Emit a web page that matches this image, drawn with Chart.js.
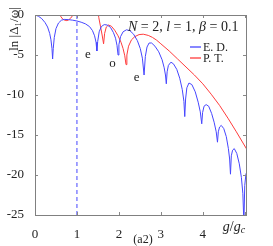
<!DOCTYPE html>
<html>
<head>
<meta charset="utf-8">
<script src="https://cdn.jsdelivr.net/npm/chart.js@4/dist/chart.umd.min.js"></script>
<style>
  html, body { margin: 0; padding: 0; background: #fff; }
  #wrap { width: 273px; height: 246px; }
</style>
</head>
<body>
<div id="wrap"><canvas id="c" width="273" height="246"></canvas></div>
<script>
// exact diagonalisation curve (E. D.)
var edX = [0, 0.08, 0.16, 0.24, 0.3, 0.35, 0.38, 0.405, 0.42, 0.435, 0.46, 0.5, 0.56, 0.63, 0.7, 0.8, 0.9, 1.0, 1.1, 1.2, 1.3, 1.37, 1.42, 1.455, 1.475, 1.495, 1.53, 1.58, 1.65, 1.72, 1.8, 1.87, 1.92, 1.955, 1.98, 2.0, 2.04, 2.1, 2.18, 2.26, 2.35, 2.44, 2.51, 2.56, 2.6, 2.63, 2.67, 2.72, 2.78, 2.86, 2.95, 3.03, 3.08, 3.11, 3.13, 3.15, 3.18, 3.24, 3.3, 3.38, 3.45, 3.51, 3.55, 3.57, 3.59, 3.62, 3.67, 3.74, 3.82, 3.89, 3.94, 3.975, 3.995, 4.03, 4.08, 4.14, 4.21, 4.27, 4.32, 4.35, 4.37, 4.4, 4.44, 4.5, 4.56, 4.61, 4.64, 4.66, 4.68, 4.71, 4.75, 4.81, 4.87, 4.92, 4.955, 4.98, 5.0, 5.03, 5.05];
var edY = [0, -0.15, -0.45, -0.95, -1.5, -2.3, -3.1, -4.2, -5.5, -4.2, -2.8, -1.7, -1.0, -0.65, -0.55, -0.58, -0.65, -0.75, -0.9, -1.1, -1.45, -1.95, -2.6, -3.4, -4.5, -3.3, -2.1, -1.45, -1.2, -1.25, -1.55, -2.2, -2.9, -3.8, -5.0, -3.7, -2.7, -2.1, -1.85, -1.95, -2.4, -3.2, -4.2, -5.4, -7.5, -5.2, -4.0, -3.5, -3.5, -3.9, -4.6, -5.6, -6.6, -7.5, -8.6, -7.1, -6.3, -5.9, -6.1, -6.8, -7.9, -9.3, -10.8, -12.7, -10.5, -9.1, -8.5, -8.7, -9.6, -10.9, -12.1, -13.6, -12.2, -11.4, -11.2, -11.4, -12.3, -13.4, -14.6, -15.9, -14.6, -14.0, -13.8, -14.2, -15.2, -16.7, -18.0, -19.9, -17.6, -16.9, -16.7, -17.3, -18.6, -20.3, -22.3, -26, -21.3, -19.8, -19.5];

// perturbation theory curve (P. T.), null = gap
var ptX = [0.57, 0.61, 0.66, 0.72, 0.76, 0.8, 0.85, 0.9, 0.94, 1.2, 1.48, 1.52, 1.56, 1.6, 1.635, 1.66, 1.7, 1.75, 1.82, 1.9, 1.98, 2.05, 2.1, 2.14, 2.17, 2.19, 2.23, 2.3, 2.38, 2.48, 2.58, 2.7, 2.8, 2.9, 3.0, 3.2, 3.4, 3.6, 3.8, 4.0, 4.2, 4.4, 4.6, 4.8, 5.05];
var ptY = [0.6, -0.15, -0.5, -0.68, -0.7, -0.62, -0.4, -0.05, 0.5, null, 1.5, -0.3, -1.4, -2.5, -3.6, -2.3, -1.5, -1.25, -1.4, -1.9, -2.6, -3.4, -4.2, -5.1, -6.2, -5.0, -3.9, -3.1, -2.7, -2.45, -2.4, -2.55, -2.8, -3.15, -3.6, -4.5, -5.5, -6.5, -7.5, -8.6, -9.9, -11.3, -12.9, -14.6, -16.8];

var xTicks = [0, 1, 2, 3, 4, 5];
var yTicks = [0, -5, -10, -15, -20, -25];
var gcLine = 1;
var notes = [["e", 1.26, -4.9], ["o", 1.85, -6.1], ["e", 2.42, -7.8]];

function pts(xs, ys) {
  return xs.map(function (x, i) { return { x: x, y: ys[i] }; });
}

var blue = "rgb(70,70,255)";
var red = "rgb(255,60,60)";
var serif = "'Liberation Serif', 'DejaVu Serif', serif";

// draws text pieces one after another, returns the end x
function runs(ctx, parts, x, y, size) {
  parts.forEach(function (p) {
    ctx.font = (p[1] ? "italic " : "") + size + "px " + serif;
    ctx.fillText(p[0], x, y);
    x += ctx.measureText(p[0]).width;
  });
  return x;
}

var extras = {
  id: "extras",
  afterDraw: function (chart) {
    var ctx = chart.ctx, a = chart.chartArea;
    var xs = chart.scales.x, ys = chart.scales.y;
    ctx.save();
    // inward ticks
    ctx.strokeStyle = "#888";
    ctx.lineWidth = 1;
    ctx.beginPath();
    xTicks.forEach(function (v) {
      var px = Math.round(xs.getPixelForValue(v)) + 0.5;
      ctx.moveTo(px, a.bottom); ctx.lineTo(px, a.bottom - 3);
      ctx.moveTo(px, a.top); ctx.lineTo(px, a.top + 3);
    });
    yTicks.forEach(function (v) {
      var py = Math.round(ys.getPixelForValue(v)) + 0.5;
      ctx.moveTo(a.left, py); ctx.lineTo(a.left + 3, py);
      ctx.moveTo(a.right, py); ctx.lineTo(a.right - 3, py);
    });
    ctx.stroke();
    // frame
    ctx.strokeStyle = "#808080";
    ctx.strokeRect(Math.round(a.left) + 0.5, Math.round(a.top) + 0.5, Math.round(a.right - a.left), Math.round(a.bottom - a.top));

    ctx.fillStyle = "#222";
    ctx.textBaseline = "alphabetic";
    ctx.textAlign = "left";
    // parameter text
    runs(ctx, [["N", 1], [" = 2, ", 0], ["l", 1], [" = 1, ", 0], ["\u03b2", 1], [" = 0.1", 0]], 128, 31, 14);

    // legend
    var lg = [["E. D.", blue, 47], ["P. T.", red, 58]];
    lg.forEach(function (l) {
      ctx.strokeStyle = l[1];
      ctx.lineWidth = 1.3;
      ctx.beginPath();
      ctx.moveTo(190, l[2]); ctx.lineTo(201, l[2]);
      ctx.stroke();
      ctx.font = "12px " + serif;
      ctx.fillText(l[0], 203, l[2] + 4);
    });

    // parity notes
    ctx.textAlign = "center";
    ctx.textBaseline = "middle";
    ctx.font = "13px " + serif;
    notes.forEach(function (n) {
      ctx.fillText(n[0], xs.getPixelForValue(n[1]), ys.getPixelForValue(n[2]));
    });

    // x label at x = 5
    ctx.textBaseline = "alphabetic";
    ctx.textAlign = "left";
    var gx = xs.getPixelForValue(5) - 22;
    var gEnd = runs(ctx, [["g", 1], ["/", 0], ["g", 1]], gx, 231, 14);
    ctx.font = "italic 10px " + serif;
    ctx.fillText("c", gEnd, 233);

    // panel tag
    ctx.textAlign = "center";
    ctx.font = "12px " + serif;
    ctx.fillText("(a2)", 143, 243);

    // y label
    ctx.translate(14, 29);
    ctx.rotate(-Math.PI / 2);
    ctx.textAlign = "center";
    ctx.font = "13px " + serif;
    ctx.fillText("ln |\u0394\u2081/\u03c9|", 0, 4);
    ctx.restore();
  }
};

new Chart(document.getElementById("c"), {
  type: "line",
  data: {
    datasets: [
      { label: "E. D.", data: pts(edX, edY), borderColor: blue, borderWidth: 1, pointRadius: 0, tension: 0 },
      { label: "P. T.", data: pts(ptX, ptY), borderColor: red, borderWidth: 1, pointRadius: 0, tension: 0, spanGaps: false },
      { label: "gc", data: [{ x: gcLine, y: 0 }, { x: gcLine, y: -25 }], borderColor: blue, borderWidth: 1, borderDash: [4, 3], pointRadius: 0 }
    ]
  },
  options: {
    responsive: false,
    animation: false,
    events: [],
    layout: { padding: { left: 0, top: 15, right: 27, bottom: 0 } },
    plugins: { legend: { display: false }, tooltip: { enabled: false } },
    scales: {
      x: {
        type: "linear", min: 0, max: 5.03,
        afterFit: function (s) { s.height = 31; },
        afterBuildTicks: function (s) { s.ticks = xTicks.map(function (v) { return { value: v }; }); },
        ticks: {
          callback: function (v) { return v === 5 ? "" : v; },
          color: "#222", padding: 4, maxRotation: 0,
          font: { family: serif, size: 13 }
        },
        grid: { display: false },
        border: { display: false }
      },
      y: {
        type: "linear", min: -25, max: 0,
        afterFit: function (s) { s.width = 35; },
        afterBuildTicks: function (s) { s.ticks = yTicks.map(function (v) { return { value: v }; }); },
        ticks: {
          color: "#222", padding: 3,
          font: { family: serif, size: 13 }
        },
        grid: { display: false },
        border: { display: false }
      }
    }
  },
  plugins: [extras]
});
</script>
</body>
</html>
